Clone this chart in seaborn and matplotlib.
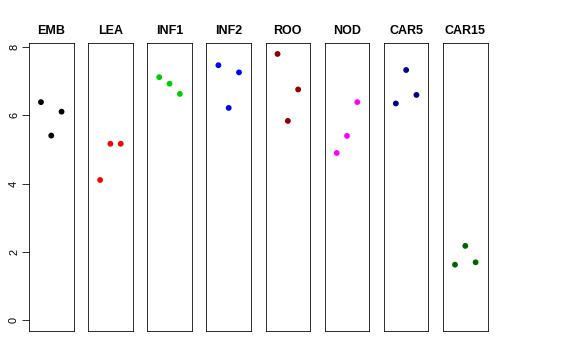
import numpy as np
import pandas as pd
import seaborn as sns
from matplotlib import pyplot as plt

# one panel per tissue, three replicate values each
tissues = ["EMB", "LEA", "INF1", "INF2", "ROO", "NOD", "CAR5", "CAR15"]
colors = ["black", "red", "#00CD00", "blue", "#8B0000", "magenta", "#00008B", "#006400"]
replicate = [1, 2, 3]

EMB = [6.39, 5.41, 6.11]
LEA = [4.11, 5.17, 5.17]
INF1 = [7.12, 6.93, 6.63]
INF2 = [7.47, 6.22, 7.26]
ROO = [7.80, 5.84, 6.76]
NOD = [4.90, 5.40, 6.39]
CAR5 = [6.35, 7.33, 6.60]
CAR15 = [1.63, 2.18, 1.70]

values = [EMB, LEA, INF1, INF2, ROO, NOD, CAR5, CAR15]
yticks = [0, 2, 4, 6, 8]

rows = []
for t, v in zip(tissues, values):
    for r, y in zip(replicate, v):
        rows.append({"tissue": t, "rep": r, "value": y})
data = pd.DataFrame(rows)

sns.set_style("white")
plt.rcParams["font.family"] = ["Liberation Sans", "DejaVu Sans"]
plt.rcParams["text.color"] = "black"
plt.rcParams["ytick.color"] = "black"
plt.rcParams["ytick.labelcolor"] = "black"

fig = plt.figure(figsize=(8, 5), dpi=72)

ymax = data["value"].max()
ypad = ymax * 0.04
W, H = 576, 360
left0, step, width = 29, 59.15, 44.5
bottom, top = 331, 43.3

for i, (t, c) in enumerate(zip(tissues, colors)):
    ax = fig.add_axes([(left0 + i * step) / W, 1 - bottom / H, width / W, (bottom - top) / H])
    sub = data[data["tissue"] == t]
    sns.scatterplot(x="rep", y="value", data=sub, color=c, s=34, edgecolor="none", ax=ax, legend=False)
    ax.set_xlim(0 - 0.16, 4 + 0.16)
    ax.set_ylim(0 - ypad, ymax + ypad)
    ax.set_xticks([])
    ax.set_xlabel("")
    ax.set_ylabel("")
    ax.set_title(t, fontsize=12.5, fontweight="bold", pad=9, color="black")
    for s in ax.spines.values():
        s.set_visible(True)
        s.set_color("black")
        s.set_linewidth(0.8)
    if i == 0:
        ax.set_yticks(yticks)
        ax.set_yticklabels([str(y) for y in yticks], rotation=90, va="center", fontsize=11, color="black")
        ax.tick_params(axis="y", which="both", left=True, length=7, width=0.8, pad=3, color="black")
    else:
        ax.set_yticks([])

fig.savefig("out.png", dpi=72)
